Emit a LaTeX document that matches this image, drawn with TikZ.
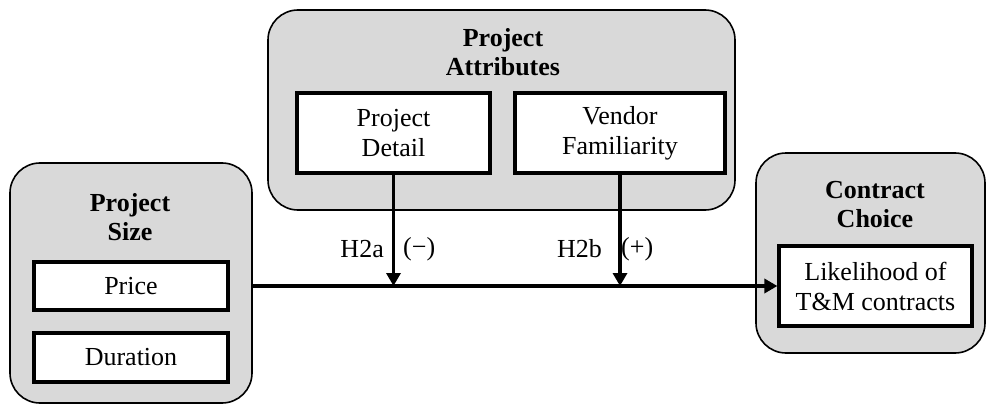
\documentclass[tikz,border=0pt]{standalone}
\usepackage{fontspec}
\setmainfont{Liberation Serif}
\usetikzlibrary{arrows.meta}
\begin{document}
\begin{tikzpicture}[x=1pt,y=-1pt,
  group/.style={draw=black, line width=1.6pt, fill={rgb,255:red,217;green,217;blue,217}, rounded corners=30pt, inner sep=0pt},
  item/.style={draw=black, line width=3.2pt, fill=white, inner sep=0pt, align=center, font=\fontsize{26}{30}\selectfont},
  title/.style={align=center, inner sep=0pt, font=\fontsize{26}{29}\selectfont\bfseries},
  lbl/.style={inner sep=0pt, font=\fontsize{26}{30}\selectfont},
  arr/.style={line width=3.3pt, -{Triangle[length=13pt,width=14pt]}}]
\useasboundingbox (0,0) rectangle (986,404);
% groups
\node[group, minimum width=242, minimum height=240] (size) at (131,283) {};
\node[group, minimum width=467, minimum height=200] (attr) at (501.5,110) {};
\node[group, minimum width=229, minimum height=200] (choice) at (870.5,253) {};
% titles
\node[title] (sizet) at (130,217) {Project\\Size};
\node[title] (attrt) at (503,52) {Project\\Attributes};
\node[title] (choicet) at (875,205) {Contract\\Choice};
% items
\node[item, minimum width=194, minimum height=48] (price) at (131,286) {Price};
\node[item, minimum width=194, minimum height=49] (duration) at (131,357.5) {Duration};
\node[item, minimum width=193, minimum height=80] (detail) at (393.5,133) {Project\\Detail};
\node[item, minimum width=210, minimum height=80] (vendor) at (620,133) {Vendor\\Familiarity};
\node[item, minimum width=193, minimum height=80] (likely) at (875.5,286) {Likelihood of\\T\&M contracts};
% connectors
\coordinate (start) at (size.east |- price.east);
\coordinate (j1) at (detail.south |- price.east);
\coordinate (j2) at (vendor.south |- price.east);
\draw[arr] (start) -- (likely.west);
\draw[arr] (detail.south) -- (j1);
\draw[arr] (vendor.south) -- (j2);
% labels
\node[lbl, anchor=east] (h2a) at (384,249) {H2a};
\node[lbl, anchor=west] (h2as) at (403,249) {(−)};
\node[lbl, anchor=east] (h2b) at (602,249) {H2b};
\node[lbl, anchor=west] (h2bs) at (621,249) {(+)};
\end{tikzpicture}
\end{document}
